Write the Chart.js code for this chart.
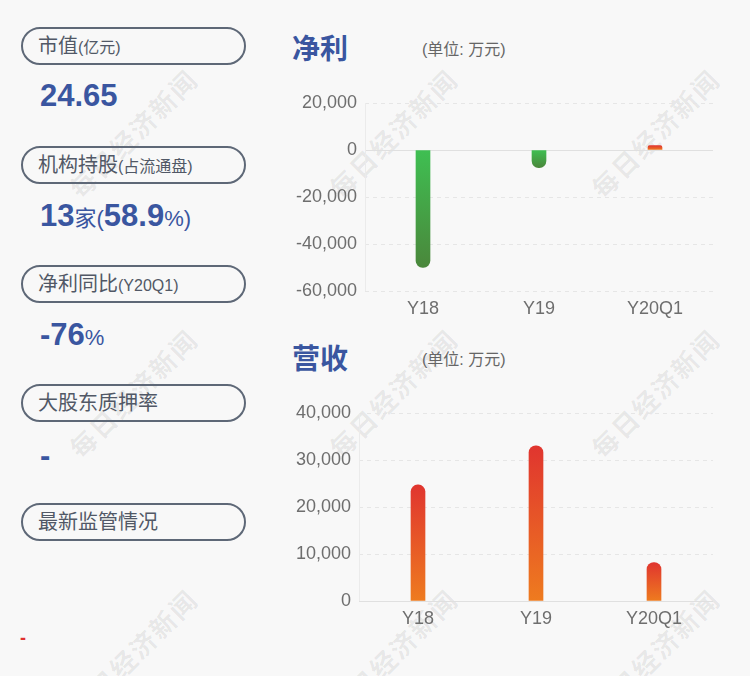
<!DOCTYPE html>
<html><head><meta charset="utf-8">
<script src="https://cdn.jsdelivr.net/npm/chart.js@4.4.0/dist/chart.umd.min.js"></script>
<style>
html,body{margin:0;padding:0;}
body{width:750px;height:676px;background:#f8f8f8;position:relative;overflow:hidden;font-family:"Liberation Sans","Noto Sans CJK SC",sans-serif;}
.wm{position:absolute;width:220px;text-align:center;font-size:26px;font-weight:bold;letter-spacing:2px;color:rgba(0,0,0,0.075);transform:translate(-50%,-50%) rotate(-45deg);white-space:nowrap;font-family:"Noto Sans CJK SC",sans-serif;line-height:30px;}
.pill{position:absolute;left:21px;width:225px;height:38px;box-sizing:border-box;border:2px solid #5e6877;border-radius:19px;padding-left:15px;line-height:34px;font-size:20px;color:#515866;white-space:nowrap;}
.pill small{font-size:16px;}
.val{position:absolute;left:40px;color:#3a56a0;font-weight:bold;font-size:31px;line-height:40px;white-space:nowrap;}
.val .s{font-weight:normal;font-size:22px;}
.title{position:absolute;left:292px;font-size:28px;font-weight:bold;color:#3a56a0;line-height:34px;}
.unit{position:absolute;left:422px;font-size:16px;color:#666;line-height:20px;}
canvas{position:absolute;}
</style></head>
<body>
<div id="wms"></div>

<div class="pill" style="top:27px">市值<small>(亿元)</small></div>
<div class="val" style="top:76px">24.65</div>
<div class="pill" style="top:146px">机构持股<small>(占流通盘)</small></div>
<div class="val" style="top:196px">13<span class="s">家(</span>58.9<span class="s">%)</span></div>
<div class="pill" style="top:265px">净利同比<small>(Y20Q1)</small></div>
<div class="val" style="top:315px">-76<span class="s">%</span></div>
<div class="pill" style="top:384px">大股东质押率</div>
<div class="val" style="top:436px">-</div>
<div class="pill" style="top:503px">最新监管情况</div>
<div style="position:absolute;left:20px;top:628px;font-size:18px;font-weight:bold;line-height:20px;color:#e03030;">-</div>

<div class="title" style="top:33px">净利</div>
<div class="unit" style="top:40px">(单位: 万元)</div>
<div class="title" style="top:343px">营收</div>
<div class="unit" style="top:350px">(单位: 万元)</div>

<canvas id="c1" width="450" height="250" style="left:280px;top:80px"></canvas>
<canvas id="c2" width="450" height="250" style="left:280px;top:390px"></canvas>

<script>
// ---- data ----
const categories = ['Y18', 'Y19', 'Y20Q1'];
const netProfit = [-50000, -7500, 1900];
const revenue = [24700, 33000, 8200];
const profitTicks = [20000, 0, -20000, -40000, -60000];
const revenueTicks = [40000, 30000, 20000, 10000, 0];
const watermarkText = '每日经济新闻';

// watermarks
const wmX = [133, 393, 655], wmY = [133, 393, 653];
const wms = document.getElementById('wms');
wmY.forEach(y => wmX.forEach(x => {
  const d = document.createElement('div');
  d.className = 'wm'; d.textContent = watermarkText;
  d.style.left = x + 'px'; d.style.top = y + 'px';
  wms.appendChild(d);
}));

const RED = ['#e0352f', '#ee7b1f'];
const GREEN = ['#3fbf52', '#4a873b'];

function barGrad(context) {
  const chart = context.chart;
  const area = chart.chartArea;
  const v = context.raw;
  if (!area || typeof v !== 'number') return RED[0];
  const ys = chart.scales.y;
  const p0 = ys.getPixelForValue(0), p1 = ys.getPixelForValue(v);
  const top = Math.min(p0, p1), bot = Math.max(p0, p1) + 0.01;
  const g = chart.ctx.createLinearGradient(0, top, 0, bot);
  const cols = v >= 0 ? RED : GREEN;
  g.addColorStop(0, cols[0]);
  g.addColorStop(1, cols[1]);
  return g;
}

const axisLines = {
  id: 'axisLines',
  beforeDatasetsDraw(chart) {
    const { ctx, chartArea: a, scales: { y } } = chart;
    const y0 = Math.round(y.getPixelForValue(0)) + 0.5;
    ctx.save();
    ctx.strokeStyle = '#e0e0e0';
    ctx.lineWidth = 1;
    ctx.setLineDash([]);
    ctx.beginPath();
    ctx.moveTo(a.left, y0); ctx.lineTo(a.right, y0);
    ctx.stroke();
    ctx.strokeStyle = '#ebebeb';
    ctx.beginPath();
    ctx.moveTo(Math.round(a.left) + 0.5, a.top); ctx.lineTo(Math.round(a.left) + 0.5, a.bottom);
    ctx.stroke();
    ctx.restore();
  }
};

function makeChart(id, values, ticks, yWidth) {
  const min = Math.min(...ticks), max = Math.max(...ticks);
  return new Chart(document.getElementById(id), {
    type: 'bar',
    data: {
      labels: categories,
      datasets: [{
        data: values,
        backgroundColor: barGrad,
        barThickness: 14,
        borderRadius: 7,
        borderSkipped: 'start'
      }]
    },
    options: {
      responsive: false,
      animation: false,
      locale: 'en-US',
      layout: { padding: { top: 23, right: 17, bottom: 9, left: 0 } },
      plugins: { legend: { display: false }, tooltip: { enabled: false } },
      scales: {
        x: {
          grid: { display: false },
          border: { display: false },
          ticks: { color: '#6e6e6e', font: { family: 'Liberation Sans', size: 18 }, padding: -1 },
          afterFit(s) { s.height = 30; }
        },
        y: {
          min: min, max: max,
          afterBuildTicks(s) { s.ticks = ticks.slice().reverse().map(v => ({ value: v })); },
          afterFit(s) { s.width = yWidth; },
          grid: { color: '#e6e6e6', drawTicks: false, lineWidth: 1 },
          border: { display: false, dash: [4, 4] },
          ticks: {
            color: '#6e6e6e', font: { family: 'Liberation Sans', size: 18 }, padding: 8,
            callback: v => v.toLocaleString('en-US')
          }
        }
      }
    },
    plugins: [axisLines]
  });
}

makeChart('c1', netProfit, profitTicks, 85);
makeChart('c2', revenue, revenueTicks, 79);
</script>
</body></html>
